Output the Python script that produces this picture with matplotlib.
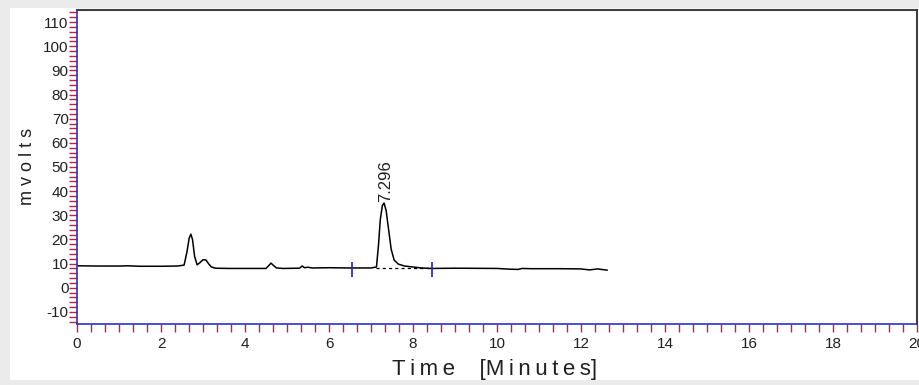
import matplotlib
matplotlib.use("Agg")
import matplotlib.pyplot as plt
from matplotlib.ticker import MultipleLocator, FixedLocator
from matplotlib.patches import Rectangle

plt.rcParams['font.family'] = ['Liberation Sans', 'DejaVu Sans']
plt.rcParams['axes.unicode_minus'] = False

# chromatogram trace (minutes, mV)
time_min = [0.0, 0.5, 1.0, 1.2, 1.5, 2.0, 2.4, 2.55, 2.62, 2.67, 2.71, 2.75, 2.8,
            2.86, 2.92, 3.0, 3.07, 3.14, 3.2, 3.3, 3.6, 4.0, 4.5, 4.56, 4.62,
            4.68, 4.75, 4.9, 5.3, 5.36, 5.42, 5.5, 5.6, 6.0, 6.5, 7.0, 7.13,
            7.18, 7.22, 7.27, 7.31, 7.36, 7.42, 7.48, 7.55, 7.65, 7.8, 8.0,
            8.2, 8.45, 9.0, 10.0, 10.3, 10.5, 10.6, 10.8, 11.5, 12.0, 12.2,
            12.4, 12.62]
signal_mv = [9.1, 9.0, 9.0, 9.1, 8.9, 8.9, 9.0, 9.4, 15.0, 20.5, 22.2, 20.0, 13.0,
             9.5, 10.3, 11.6, 11.5, 9.8, 8.6, 8.1, 8.0, 8.0, 8.0, 9.1, 10.2,
             9.2, 8.2, 8.0, 8.1, 9.0, 8.3, 8.5, 8.2, 8.3, 8.2, 8.2, 8.6,
             18.0, 28.0, 34.0, 35.1, 32.0, 24.0, 16.0, 11.5, 9.8, 9.0, 8.6,
             8.2, 8.0, 8.1, 8.0, 7.7, 7.6, 8.0, 7.9, 7.9, 7.8, 7.4,
             7.8, 7.3]

peak_time = 7.296
peak_label = "7.296"
peak_height = 35.1
peak_start = 7.13
peak_end = 8.45
peak_base = 8.1
integration_marks = [6.54, 8.45]
mark_level = 7.5

xlim = (0, 20)
ylim = (-15, 115)

fig = plt.figure(figsize=(9.19, 3.85), dpi=100)
fig.patch.set_facecolor('#ebebeb')
fig.patches.append(Rectangle((10 / 919, 5 / 385), 1, (377 - 5) / 385,
                             transform=fig.transFigure, facecolor='white',
                             edgecolor='none', zorder=-5))

ax = fig.add_axes([77 / 919, (385 - 324) / 385, (917 - 77) / 919, (324 - 10) / 385])
ax.set_facecolor('white')
ax.set_xlim(*xlim)
ax.set_ylim(*ylim)

ax.plot(time_min, signal_mv, color='black', lw=1.1)
ax.plot([peak_start, peak_end], [peak_base, peak_base], color='black', lw=0.9,
        ls=(0, (2.5, 2.5)))
ax.vlines(integration_marks, mark_level - 3.2, mark_level + 3.2, color='#2020c0', lw=1.2)
ax.text(peak_time + 0.05, peak_height + 0.5, peak_label, rotation=90, ha='center',
        va='bottom', fontsize=12, color='#202020')

ax.xaxis.set_major_locator(MultipleLocator(2))
ax.xaxis.set_minor_locator(MultipleLocator(1 / 3))
ax.yaxis.set_major_locator(FixedLocator(list(range(-10, 111, 10))))
ax.yaxis.set_minor_locator(MultipleLocator(2))

tick_red = '#c02040'
ax.tick_params(axis='both', which='both', direction='out', color=tick_red,
               length=6, width=1, labelsize=11, labelcolor='#202020')
ax.tick_params(axis='x', pad=3)
ax.tick_params(axis='y', pad=0)

for s in ['left', 'bottom']:
    ax.spines[s].set_color('#3030c0')
    ax.spines[s].set_linewidth(1.2)
for s in ['top', 'right']:
    ax.spines[s].set_color('#404040')
    ax.spines[s].set_linewidth(1.5)

fig.text(27 / 919, 1 - 166 / 385, 'm v o l t s', rotation=90, ha='center', va='center',
         fontsize=13, color='#202020')
fig.text(495 / 919, 1 - 370 / 385,
         'T\u2009i\u2009m\u2009e    [M\u2009i\u2009n\u2009u\u2009t\u2009e\u2009s]',
         ha='center', va='center', fontsize=16, color='#202020')

fig.savefig('out.png', dpi=100, facecolor=fig.get_facecolor())
